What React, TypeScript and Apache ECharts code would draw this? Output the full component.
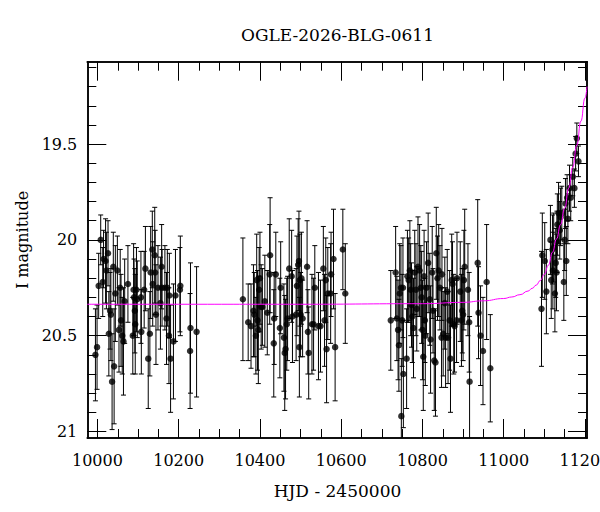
import React, { useEffect, useRef } from 'react';
import * as echarts from 'echarts';

const TITLE = 'OGLE-2026-BLG-0611';
const X_LABEL = 'HJD - 2450000';
const Y_LABEL = 'I magnitude';

const X_MAJOR_TICKS = [10000, 10200, 10400, 10600, 10800, 11000, 11200];
const X_MINOR_TICKS = [
  10000, 10050, 10100, 10150, 10200, 10250, 10300, 10350, 10400, 10450, 10500, 10550, 10600,
  10650, 10700, 10750, 10800, 10850, 10900, 10950, 11000, 11050, 11100, 11150, 11200,
];
const Y_MAJOR_TICKS = [19.5, 20, 20.5, 21];
const Y_MINOR_TICKS = [
  19.1, 19.2, 19.3, 19.4, 19.5, 19.6, 19.7, 19.8, 19.9, 20.0, 20.1, 20.2, 20.3, 20.4, 20.5,
  20.6, 20.7, 20.8, 20.9, 21.0,
];

// Observations: HJD - 2450000, I magnitude, error
const hjd = [
  9995, 9999, 10003, 10008, 10013, 10015, 10020, 10022, 10026, 10028, 10031, 10033, 10036, 10039,
  10041, 10044, 10049, 10053, 10056, 10058, 10061, 10064, 10067, 10075, 10087, 10089, 10090, 10092,
  10093, 10096, 10098, 10107, 10108, 10115, 10118, 10125, 10129, 10131, 10135, 10136, 10141, 10142,
  10144, 10149, 10155, 10158, 10159, 10166, 10170, 10172, 10176, 10177, 10180, 10187, 10192, 10203,
  10204, 10228, 10229, 10244,
  10358, 10371, 10378, 10384, 10386, 10390, 10392, 10394, 10396, 10398, 10400, 10403, 10406, 10412,
  10418, 10424, 10425, 10434, 10435, 10439, 10449, 10451, 10459, 10461, 10463, 10466, 10468, 10472,
  10478, 10480, 10489, 10491, 10494, 10496, 10497, 10498, 10500, 10502, 10505, 10516, 10518, 10520,
  10528, 10532, 10535, 10544, 10549, 10556, 10559, 10562, 10564, 10567, 10574, 10575, 10581, 10585,
  10604, 10610,
  10722, 10734, 10737, 10740, 10742, 10744, 10747, 10748, 10750, 10752, 10753, 10761, 10763, 10766,
  10769, 10771, 10773, 10775, 10778, 10781, 10784, 10786, 10789, 10793, 10796, 10798, 10800, 10802,
  10804, 10806, 10807, 10810, 10814, 10818, 10820, 10824, 10826, 10829, 10832, 10834, 10837, 10840,
  10843, 10847, 10848, 10851, 10855, 10857, 10861, 10863, 10867, 10869, 10872, 10874, 10877, 10879,
  10884, 10885, 10893, 10896, 10898, 10900, 10902, 10904, 10912, 10915, 10916, 10936, 10938, 10943,
  10949, 10958, 10967,
  11093, 11095, 11101, 11105, 11115, 11117, 11120, 11121, 11123, 11126, 11128, 11130, 11131, 11132,
  11135, 11138, 11140, 11143, 11148, 11150, 11152, 11154, 11156, 11158, 11162, 11165, 11170, 11174,
  11177, 11180, 11184,
];
const imag = [
  20.60, 20.56, 20.24, 20.00, 20.22, 20.10, 20.11, 20.16, 20.07, 20.49, 20.37, 20.39, 20.74, 20.14,
  20.66, 20.28, 20.16, 20.47, 20.25, 20.42, 20.50, 20.53, 20.32, 20.23, 20.50, 20.26, 20.30, 20.37,
  20.44, 20.26, 20.31, 20.30, 20.48, 20.26, 20.15, 20.62, 20.49, 20.17, 20.05, 20.23, 20.08, 20.17,
  20.39, 20.25, 20.33, 20.14, 20.25, 20.25, 20.41, 20.25, 20.50, 20.29, 20.62, 20.53, 20.29, 20.26,
  20.24, 20.58, 20.46, 20.48,
  20.31, 20.43, 20.45, 20.37, 20.39, 20.50, 20.21, 20.42, 20.47, 20.26, 20.20, 20.35, 20.35, 20.32,
  20.38, 20.18, 20.08, 20.54, 20.41, 20.18, 20.46, 20.25, 20.51, 20.59, 20.57, 20.44, 20.41, 20.15,
  20.19, 20.40, 20.39, 20.24, 20.13, 20.11, 20.56, 20.21, 20.39, 20.20, 20.41, 20.14, 20.48, 20.59,
  20.44, 20.44, 20.25, 20.45, 20.45, 20.15, 20.42, 20.21, 20.57, 20.28, 20.28, 20.18, 20.10, 20.56,
  20.05, 20.28,
  20.42, 20.17, 20.41, 20.47, 20.55, 20.28, 20.25, 20.92, 20.42, 20.25, 20.70, 20.62, 20.19, 20.21,
  20.16, 20.26, 20.34, 20.40, 20.46, 20.17, 20.26, 20.36, 20.14, 20.16, 20.25, 20.30, 20.47, 20.61,
  20.19, 20.42, 20.50, 20.25, 20.12, 20.31, 20.52, 20.17, 20.37, 20.63, 20.64, 20.07, 20.20, 20.16,
  20.25, 20.51, 20.18, 20.49, 20.33, 20.51, 20.27, 20.51, 20.42, 20.62, 20.21, 20.23, 20.44, 20.45,
  20.42, 20.20, 20.27, 20.42, 20.37, 20.39, 20.21, 20.14, 20.26, 20.43, 20.74, 20.12, 20.38, 20.50,
  20.58, 20.22, 20.67,
  20.36, 20.08, 20.11, 20.27, 20.00, 20.21, 20.05, 20.16, 20.04, 20.28, 20.12, 20.17, 20.01, 19.92,
  19.86, 19.95, 19.88, 19.86, 20.22, 20.00, 19.81, 20.11, 19.78, 19.89, 19.73, 19.78, 19.67, 19.73,
  19.55, 19.47, 19.59,
];
const ierr = [
  0.24, 0.22, 0.17, 0.13, 0.18, 0.15, 0.22, 0.20, 0.17, 0.22, 0.20, 0.24, 0.25, 0.18,
  0.30, 0.25, 0.18, 0.22, 0.20, 0.24, 0.20, 0.28, 0.22, 0.20, 0.20, 0.24, 0.20, 0.22,
  0.26, 0.22, 0.20, 0.24, 0.22, 0.20, 0.22, 0.26, 0.22, 0.24, 0.20, 0.22, 0.25, 0.22,
  0.26, 0.22, 0.24, 0.22, 0.20, 0.22, 0.24, 0.20, 0.25, 0.22, 0.28, 0.30, 0.24, 0.22,
  0.26, 0.30, 0.34, 0.34,
  0.32, 0.20, 0.22, 0.24, 0.22, 0.20, 0.24, 0.26, 0.28, 0.22, 0.24, 0.22, 0.20, 0.24,
  0.22, 0.26, 0.30, 0.28, 0.24, 0.22, 0.26, 0.24, 0.28, 0.30, 0.26, 0.24, 0.22, 0.26,
  0.24, 0.24, 0.24, 0.26, 0.24, 0.26, 0.26, 0.24, 0.22, 0.24, 0.20, 0.24, 0.22, 0.24,
  0.26, 0.24, 0.22, 0.28, 0.24, 0.22, 0.24, 0.22, 0.28, 0.24, 0.26, 0.22, 0.26, 0.28,
  0.21, 0.26,
  0.26, 0.24, 0.22, 0.26, 0.24, 0.26, 0.22, 0.30, 0.24, 0.26, 0.28, 0.26, 0.24, 0.22,
  0.26, 0.24, 0.22, 0.24, 0.26, 0.22, 0.24, 0.22, 0.26, 0.24, 0.22, 0.24, 0.26, 0.28,
  0.24, 0.22, 0.26, 0.24, 0.26, 0.24, 0.28, 0.24, 0.22, 0.26, 0.28, 0.24, 0.22, 0.24,
  0.22, 0.26, 0.24, 0.22, 0.24, 0.26, 0.22, 0.24, 0.26, 0.28, 0.24, 0.22, 0.26, 0.24,
  0.22, 0.24, 0.26, 0.24, 0.22, 0.24, 0.26, 0.30, 0.24, 0.26, 0.34, 0.33, 0.24, 0.26,
  0.28, 0.30, 0.28,
  0.30, 0.22, 0.20, 0.22, 0.18, 0.20, 0.18, 0.20, 0.18, 0.20, 0.18, 0.20, 0.16, 0.16,
  0.16, 0.15, 0.15, 0.14, 0.20, 0.16, 0.13, 0.18, 0.12, 0.13, 0.12, 0.12, 0.10, 0.10,
  0.09, 0.08, 0.08,
];

// Model light curve (magenta)
const modelHjd = [
  9975, 10200, 10500, 10800, 10900, 10950, 11000, 11020, 11040, 11060, 11070, 11080, 11090,
  11100, 11110, 11120, 11130, 11140, 11150, 11160, 11170, 11180, 11190, 11200, 11205,
];
const modelMag = [
  20.336, 20.336, 20.336, 20.333, 20.326, 20.318, 20.306, 20.298, 20.286, 20.267, 20.253,
  20.236, 20.212, 20.180, 20.132, 20.065, 19.995, 19.920, 19.835, 19.730, 19.620, 19.505,
  19.380, 19.260, 19.200,
];

const X_MIN = 9975;
const X_MAX = 11205;
const Y_MIN = 19.07;
const Y_MAX = 21.034;
const FONT = 'DejaVu Serif';

function xAxisDef(position: string, major: boolean, showLabel: boolean) {
  return {
    type: 'value',
    position,
    min: X_MIN,
    max: X_MAX,
    axisLine: { show: true, onZero: false, lineStyle: { color: '#000', width: 1.5 } },
    axisTick: {
      show: true,
      inside: true,
      length: major ? 19 : 9,
      customValues: major ? X_MAJOR_TICKS : X_MINOR_TICKS,
      lineStyle: { color: '#000', width: 1 },
    },
    axisLabel: {
      show: showLabel,
      customValues: X_MAJOR_TICKS,
      formatter: (v: number) => String(v),
      margin: 14,
      fontFamily: FONT,
      fontSize: 16,
      color: '#000',
      hideOverlap: false,
    },
    splitLine: { show: false },
  };
}

function yAxisDef(position: string, major: boolean, showLabel: boolean) {
  return {
    type: 'value',
    position,
    inverse: true,
    min: Y_MIN,
    max: Y_MAX,
    axisLine: { show: true, onZero: false, lineStyle: { color: '#000', width: 1.5 } },
    axisTick: {
      show: true,
      inside: true,
      length: major ? 19 : 9,
      customValues: major ? Y_MAJOR_TICKS : Y_MINOR_TICKS,
      lineStyle: { color: '#000', width: 1 },
    },
    axisLabel: {
      show: showLabel,
      customValues: Y_MAJOR_TICKS,
      formatter: (v: number) => String(Math.round(v * 10) / 10),
      margin: 10,
      fontFamily: FONT,
      fontSize: 16,
      color: '#000',
    },
    splitLine: { show: false },
  };
}

export default function App() {
  const ref = useRef<HTMLDivElement>(null);

  useEffect(() => {
    if (!ref.current) return;
    const chart = echarts.init(ref.current, undefined, { renderer: 'svg' });
    const obs = hjd.map((t, i) => [t, imag[i], ierr[i]]);
    const model = modelHjd.map((t, i) => [t, modelMag[i]]);

    const textStyle = (text: string, size: number) => ({
      text,
      fontFamily: FONT,
      fontSize: size,
      fill: '#000',
      align: 'center',
      verticalAlign: 'middle',
      textAlign: 'center',
      textVerticalAlign: 'middle',
    });

    chart.setOption({
      animation: false,
      backgroundColor: '#fff',
      grid: {
        left: 87.3,
        right: 13,
        top: 61.7,
        bottom: 74,
        containLabel: false,
        outerBoundsMode: 'none',
      },
      xAxis: [
        xAxisDef('bottom', true, true),
        xAxisDef('bottom', false, false),
        xAxisDef('top', true, false),
        xAxisDef('top', false, false),
      ],
      yAxis: [
        yAxisDef('left', true, true),
        yAxisDef('left', false, false),
        yAxisDef('right', true, false),
        yAxisDef('right', false, false),
      ],
      graphic: [
        { type: 'text', x: 337.5, y: 35, style: textStyle(TITLE, 17) },
        { type: 'text', x: 337.5, y: 491, style: textStyle(X_LABEL, 17) },
        { type: 'text', x: 22, y: 240, rotation: Math.PI / 2, style: textStyle(Y_LABEL, 16) },
      ],
      series: [
        {
          type: 'custom',
          xAxisIndex: 0,
          yAxisIndex: 0,
          clip: true,
          data: obs,
          encode: { x: 0, y: 1 },
          renderItem: (params: any, api: any) => {
            const x = api.value(0);
            const y = api.value(1);
            const e = api.value(2);
            const top = api.coord([x, y - e]);
            const bot = api.coord([x, y + e]);
            const cap = 2.5;
            const style = { stroke: '#000', lineWidth: 1 };
            return {
              type: 'group',
              children: [
                { type: 'line', shape: { x1: top[0], y1: top[1], x2: bot[0], y2: bot[1] }, style },
                { type: 'line', shape: { x1: top[0] - cap, y1: top[1], x2: top[0] + cap, y2: top[1] }, style },
                { type: 'line', shape: { x1: bot[0] - cap, y1: bot[1], x2: bot[0] + cap, y2: bot[1] }, style },
              ],
            };
          },
          z: 2,
        },
        {
          type: 'scatter',
          xAxisIndex: 0,
          yAxisIndex: 0,
          data: obs.map((d) => [d[0], d[1]]),
          symbol: 'circle',
          symbolSize: 6.5,
          itemStyle: { color: '#000' },
          z: 3,
        },
        {
          type: 'line',
          xAxisIndex: 0,
          yAxisIndex: 0,
          data: model,
          showSymbol: false,
          symbol: 'none',
          smooth: true,
          smoothMonotone: 'x',
          lineStyle: { color: '#ff00ff', width: 1 },
          z: 4,
        },
      ],
    });

    return () => chart.dispose();
  }, []);

  return (
    <div
      ref={ref}
      style={{ position: 'fixed', left: 0, top: 0, width: 600, height: 512, background: '#fff' }}
    />
  );
}
